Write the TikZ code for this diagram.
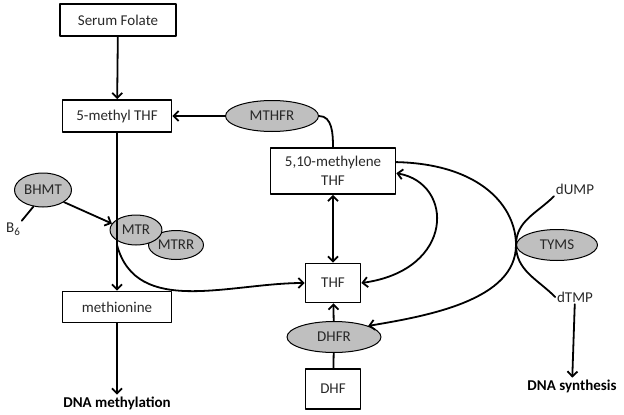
\documentclass[tikz,border=0pt]{standalone}
\usepackage{fontspec}
\setmainfont{Carlito}
\usetikzlibrary{arrows.meta,shapes.geometric}
\definecolor{enzgray}{RGB}{191,191,191}
\definecolor{inkgray}{RGB}{40,40,40}
\newcommand{\labfont}{\fontsize{15}{19}\selectfont}
\tikzset{
	pbox/.style={draw,rectangle,line width=1.7pt,inner sep=2pt,align=center,text=inkgray},
	enz/.style={draw,ellipse,fill=enzgray,line width=1pt,inner sep=0pt,text=inkgray},
	lbl/.style={inner sep=1pt,text=inkgray},
	endlbl/.style={inner sep=1pt,font=\labfont\bfseries}
}
\begin{document}
\begin{tikzpicture}[
	x=1pt,y=-1pt,
	>={Straight Barb[length=5pt,width=10pt]},
	line width=1.8pt,
	line cap=round,
	line join=round,
	font=\labfont
	]
	\useasboundingbox (0,0) rectangle (624,415);
	\node[pbox,minimum width=116,minimum height=32] (serum) at (118,20) {Serum Folate};
	\node[pbox,minimum width=109,minimum height=32] (mthf) at (117,116) {5-methyl THF};
	\node[pbox,minimum width=109,minimum height=31] (meth) at (117,307) {methionine};
	\node[pbox,minimum width=125,minimum height=46] (mlthf) at (333,171) {5,10-methylene\\THF};
	\node[pbox,minimum width=55,minimum height=39] (thf) at (333,283) {THF};
	\node[pbox,minimum width=55,minimum height=40] (dhf) at (333,389) {DHF};
	\node[enz,minimum width=93,minimum height=31] (mthfr) at (272,116) {MTHFR};
	\node[enz,minimum width=57,minimum height=34] (bhmt) at (43,190) {BHMT};
	\node[enz,minimum width=55,minimum height=29] (mtrr) at (176,245) {MTRR};
	\node[enz,minimum width=52,minimum height=30] (mtr) at (136,230) {MTR};
	\node[enz,minimum width=94,minimum height=31] (dhfr) at (334,337) {DHFR};
	\node[enz,minimum width=81,minimum height=31] (tyms) at (557,245) {TYMS};
	\node[lbl] (b6) at (13,229) {B\raisebox{-3pt}{\fontsize{11}{11}\selectfont 6}};
	\node[lbl] (dump) at (575,189) {dUMP};
	\node[lbl] (dtmp) at (575,297) {dTMP};
	\node[endlbl] (dnameth) at (117,403) {DNA methylation};
	\node[endlbl] (dnasyn) at (572,386) {DNA synthesis};
	\coordinate (mtrout) at (117,245);
	\draw[->] (serum) -- (mthf);
	\draw[->] (mthfr) -- (mthf);
	\draw (mthfr.east) to[out=0,in=90] (mlthf.north);
	\draw[->] (mthf) -- (meth);
	\draw[->] (meth) -- (dnameth);
	\draw (bhmt.240) -- (b6.north east);
	\draw[->] (bhmt.-30) -- (mtr.165);
	\draw[->] (mtrout) to[out=-75,in=180] (thf.west);
	\draw[<->] (mlthf) -- (thf);
	\draw[<->] (mlthf.-2) .. controls +(58,10) and +(94,-13) .. (thf.east);
	\draw[->] (mlthf.8) .. controls +(85,2) and +(0,-38) .. (tyms.west)
		.. controls +(0,55) and +(60,-10) .. (dhfr.18);
	\draw (dump.south west) to[out=225,in=90] (tyms.west) to[out=-90,in=135] (dtmp.west);
	\draw[->] (dtmp) -- (dnasyn);
	\draw[->] (dhfr) -- (thf);
	\draw (dhf) -- (dhfr);
\end{tikzpicture}
\end{document}
